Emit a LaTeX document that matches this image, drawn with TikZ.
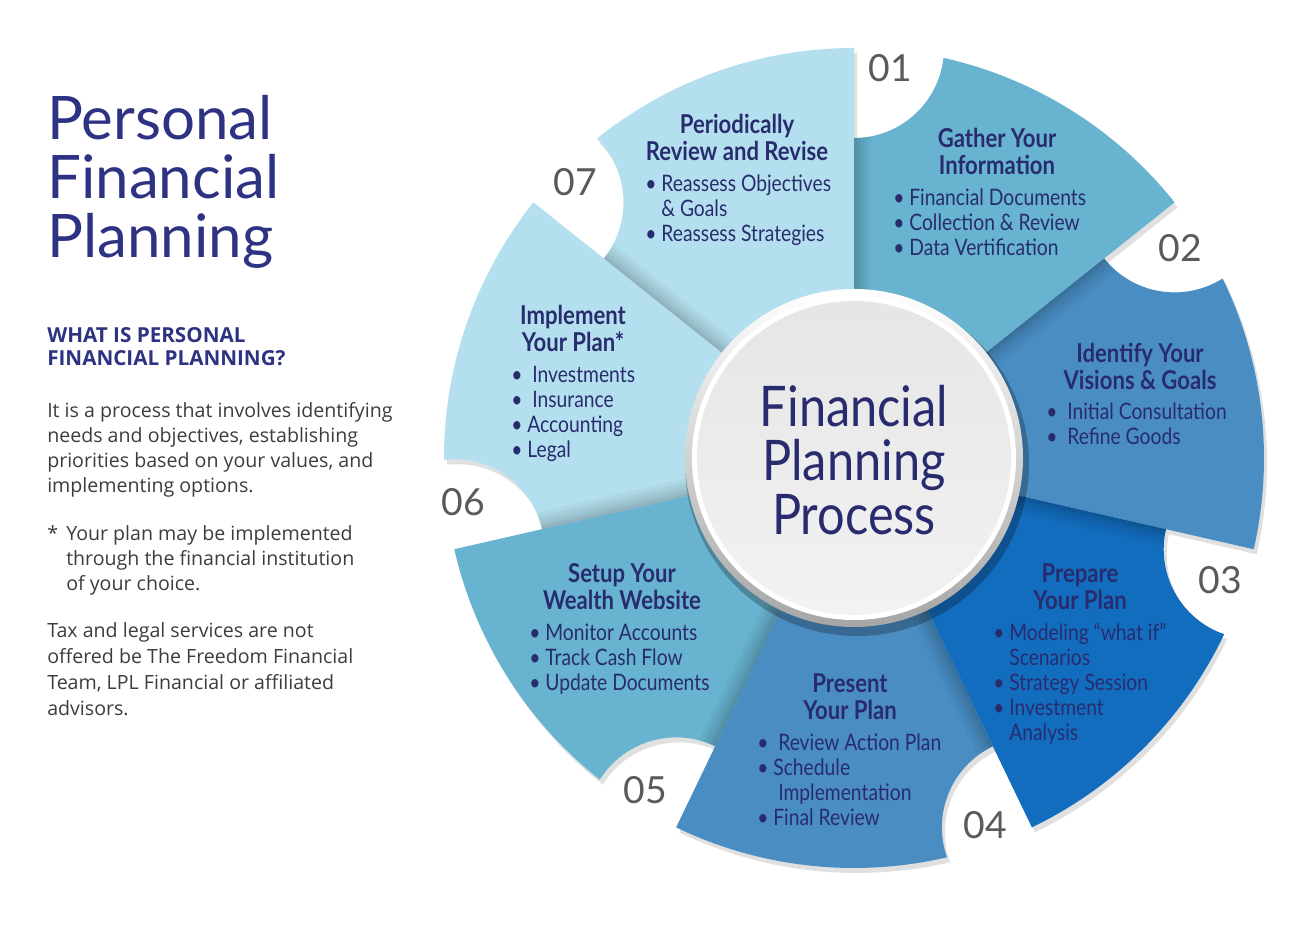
\documentclass[tikz,border=0pt]{standalone}
\usepackage{fontspec}
\setmainfont{Lato}
\newfontfamily\wheelfont{Lato}[FakeStretch=0.85]
\newfontfamily\hubfont{Lato}[FakeStretch=0.87]
\newfontfamily\bodyfont{Open Sans}
\usetikzlibrary{calc}

\definecolor{navy}{HTML}{282C6E}
\definecolor{titleblue}{HTML}{2D3282}
\definecolor{bodygray}{HTML}{3C3C3C}
\definecolor{numgray}{HTML}{5A5A5A}
\definecolor{paleblue}{HTML}{B4DFEE}
\definecolor{midblue}{HTML}{68B3CF}
\definecolor{steelblue}{HTML}{4A8DC3}
\definecolor{deepblue}{HTML}{136DBE}

% one wheel segment, leading edge at \a, trailing edge at \b
\def\R{410}
\def\rn{90}
\def\segpath{(0,0) -- (\a:\Rin) arc[start angle=\a+180, end angle=\a+270-\d/2, radius=\rn] arc[start angle=\a-\d, end angle=\b, radius=\R] -- cycle}

\begin{document}
\begin{tikzpicture}[x=0.75pt,y=0.75pt,
    head/.style={anchor=base,align=center,text=navy,inner sep=0pt,font=\wheelfont\bfseries\fontsize{19.5}{20.25}\selectfont},
    items/.style={anchor=base west,align=left,text=navy,inner sep=0pt,font=\wheelfont\fontsize{17}{18.75}\selectfont},
    num/.style={text=numgray,inner sep=0pt,font=\fontsize{28}{28}\selectfont},
    body/.style={anchor=base west,align=left,text=bodygray,inner sep=0pt,font=\bodyfont\fontsize{14.7}{18.75}\selectfont}]
  \useasboundingbox (0,0) rectangle (1300,930);

  % left column (base = last line)
  \node[anchor=base west,align=left,text=titleblue,inner sep=0pt,font=\fontsize{45}{44.25}\selectfont] (title) at (47,672) {Personal\\Financial\\Planning};
  \node[anchor=base west,align=left,text=titleblue,inner sep=0pt,font=\bodyfont\bfseries\fontsize{15.5}{17.25}\selectfont] (whatis) at (47,564) {WHAT IS PERSONAL\\FINANCIAL PLANNING?};
  \node[body] (intro) at (47,437) {It is a process that involves identifying\\needs and objectives, establishing\\priorities based on your values, and\\implementing options.};
  \node[body] (star) at (47,389) {*};
  \node[body] (note) at (66,339) {Your plan may be implemented\\through the financial institution\\of your choice.};
  \node[body,font=\bodyfont\fontsize{14.7}{19.5}\selectfont] (disclaimer) at (47,214) {Tax and legal services are not\\offered be The Freedom Financial\\Team, LPL Financial or affiliated\\advisors.};

  \begin{scope}[shift={(854,472)}]
    \pgfmathsetmacro\d{2*asin(\rn/(2*\R))}
    \pgfmathsetmacro\Rin{\R-\rn}
    % drop shadows
    \foreach \k in {1,...,7}{
      \pgfmathsetmacro\a{90-(\k-1)*360/7}
      \pgfmathsetmacro\b{\a-360/7}
      \fill[black,opacity=0.12,shift={(3,-5)}] \segpath;
    }
    % segments
    \foreach \k/\col in {1/midblue,2/steelblue,3/deepblue,4/steelblue,5/midblue,6/paleblue,7/paleblue}{
      \pgfmathsetmacro\a{90-(\k-1)*360/7}
      \pgfmathsetmacro\b{\a-360/7}
      \fill[\col] \segpath;
    }
    % soft edge shadows
    \foreach \k in {1,...,7}{
      \pgfmathsetmacro\a{90-(\k-1)*360/7}
      \pgfmathsetmacro\b{\a-360/7}
      \begin{scope}
        \clip \segpath;
        \foreach \w in {26,20,15,10,6,3}{
          \draw[black,opacity=0.035,line width=\w pt] (0,0) -- (\a:\R);
        }
      \end{scope}
    }

    % hub
    \fill[black,opacity=0.25] (3,-6) circle[radius=172];
    \shade[top color=white,bottom color=black!35] (0,0) circle[radius=169];
    \fill[white] (0,0) circle[radius=162];
    \shade[top color=black!10,bottom color=black!5] (0,0) circle[radius=157];
    \node[anchor=base,align=center,text=navy,inner sep=0pt,font=\hubfont\fontsize{42}{40.5}\selectfont] (hub) at (0,-77) {Financial\\Planning\\Process};

    % step numbers
    \node[num] (n1) at (36,390) {01};
    \node[num] (n2) at (326,210) {02};
    \node[num] (n3) at (366,-122) {03};
    \node[num] (n4) at (131,-367) {04};
    \node[num] (n5) at (-209,-332) {05};
    \node[num] (n6) at (-391,-44) {06};
    \node[num] (n7) at (-279,276) {07};

    % step texts
    \node[head] (h1) at (143,283) {Gather Your\\Information};
    \node[items] (b1) at (39,202) {\textbullet\ Financial Documents\\\textbullet\ Collection \& Review\\\textbullet\ Data Vertification};

    \node[head] (h2) at (286,68) {Identify Your\\Visions \& Goals};
    \node[items] (b2) at (192,13) {\textbullet\ \ Initial Consultation\\\textbullet\ \ Refine Goods};

    \node[head] (h3) at (226,-152) {Prepare\\Your Plan};
    \node[items] (b3) at (139,-283) {\textbullet\ Modeling “what if”\\\hphantom{\textbullet\ }Scenarios\\\textbullet\ Strategy Session\\\textbullet\ Investment\\\hphantom{\textbullet\ }Analysis};

    \node[head] (h4) at (-4,-262) {Present\\Your Plan};
    \node[items] (b4) at (-97,-368) {\textbullet\ \ Review Action Plan\\\textbullet\ Schedule\\\hphantom{\textbullet\ \ }Implementation\\\textbullet\ Final Review};

    \node[head] (h5) at (-232,-152) {Setup Your\\Wealth Website};
    \node[items] (b5) at (-325,-233) {\textbullet\ Monitor Accounts\\\textbullet\ Track Cash Flow\\\textbullet\ Update Documents};

    \node[head] (h6) at (-281,106) {Implement\\Your Plan*};
    \node[items] (b6) at (-343,0) {\textbullet\ \ Investments\\\textbullet\ \ Insurance\\\textbullet\ Accounting\\\textbullet\ Legal};

    \node[head] (h7) at (-117,297) {Periodically\\Review and Revise};
    \node[items] (b7) at (-209,216) {\textbullet\ Reassess Objectives\\\hphantom{\textbullet\ }\& Goals\\\textbullet\ Reassess Strategies};
  \end{scope}
\end{tikzpicture}
\end{document}
